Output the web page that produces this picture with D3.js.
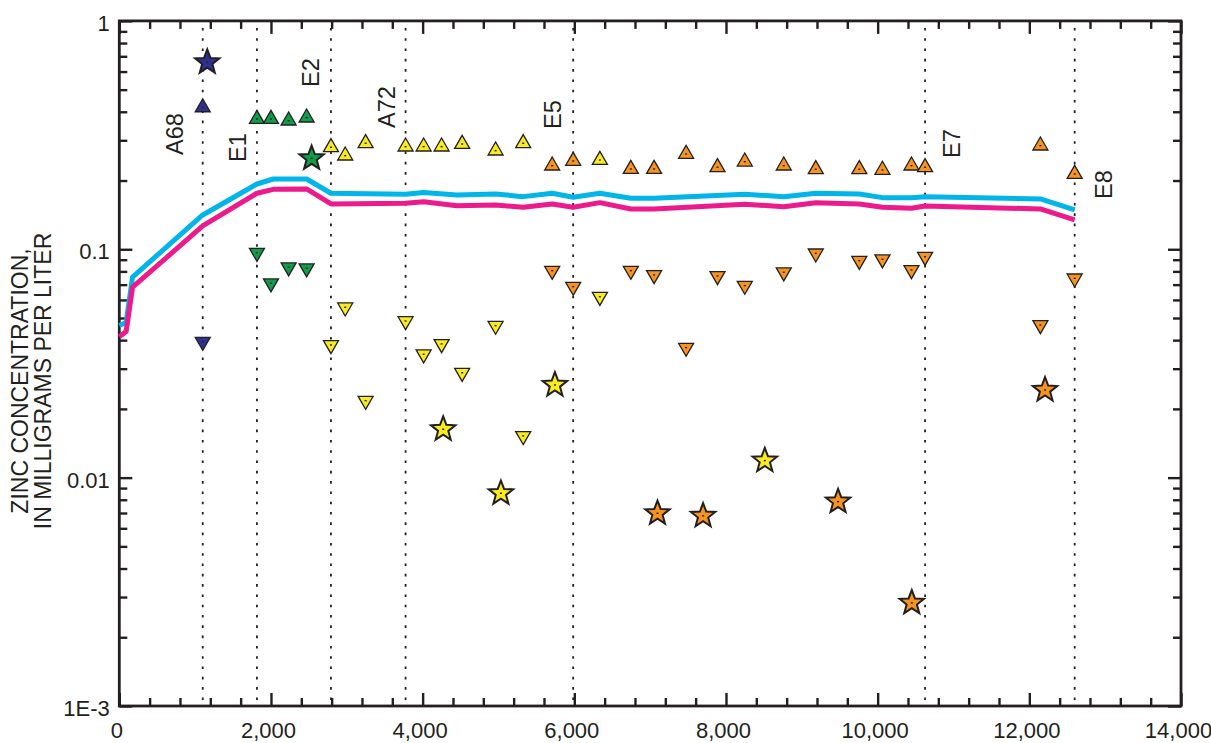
<!DOCTYPE html>
<html>
<head>
<meta charset="utf-8">
<script src="https://cdn.jsdelivr.net/npm/d3@7"></script>
<style>
  html, body { margin: 0; padding: 0; background: #fff; }
  svg { display: block; font-family: "Liberation Sans", Arial, Helvetica, sans-serif; }
</style>
</head>
<body>
<svg id="chart" width="1211" height="743"></svg>
<script>
// ---------------------------------------------------------------
// Axis setup
// ---------------------------------------------------------------
const xDomain = [0, 14000];
const yDomain = [0.001, 1];
const xTickValues = [0, 2000, 4000, 6000, 8000, 10000, 12000, 14000];
const xTickLabels = ["0", "2,000", "4,000", "6,000", "8,000", "10,000", "12,000", "14,000"];
const yTickValues = [0.001, 0.01, 0.1, 1];
const yTickLabels = ["1E-3", "0.01", "0.1", "1"];
const yTitleLines = ["ZINC CONCENTRATION,", "IN MILLIGRAMS PER LITER"];

// ---------------------------------------------------------------
// Sampling sites (distance along stream)
// ---------------------------------------------------------------
const siteNames = ["A68", "E1", "E2", "A72", "E5", "E7", "E8"];
const siteDistance = [1100, 1815, 2791, 3775, 5985, 10625, 12598];

// ---------------------------------------------------------------
// Simulated profiles (two lines)
// ---------------------------------------------------------------
const profileDistance = [0, 90, 175, 1100, 1815, 2030, 2470, 2791, 3775, 4013, 4452, 4962,
  5326, 5708, 5985, 6337, 6745, 7052, 8248, 8762, 9184, 9758, 10063, 10446, 10625, 12146, 12598];
const profileCyan = [0.0464, 0.0478, 0.0756, 0.1413, 0.1931, 0.2031, 0.2031, 0.1759, 0.1741, 0.1773,
  0.1729, 0.1747, 0.1700, 0.1759, 0.1690, 0.1759, 0.1673, 0.1673, 0.1741, 0.1700, 0.1759, 0.1747,
  0.1683, 0.1683, 0.1700, 0.1661, 0.1486];
const profileMagenta = [0.0414, 0.0436, 0.0682, 0.1265, 0.1759, 0.1830, 0.1837, 0.1579, 0.1590, 0.1616,
  0.1552, 0.1563, 0.1527, 0.1579, 0.1527, 0.1600, 0.1501, 0.1501, 0.1574, 0.1536, 0.1600, 0.1579,
  0.1527, 0.1511, 0.1547, 0.1501, 0.1344];

// ---------------------------------------------------------------
// Observed concentrations: upper (up triangles), lower (down triangles), stars
// ---------------------------------------------------------------
// Navy group
const navyDistance = [1100];
const navyUpper = [0.418];
const navyLower = [0.0394];
const navyStarDistance = [1160];
const navyStar = [0.659];

// Green group
const greenDistance = [1815, 2000, 2233, 2470];
const greenUpper = [0.372, 0.372, 0.3656, 0.377];
const greenLower = [0.0966, 0.0710, 0.0834, 0.0826];
const greenStarDistance = [2536];
const greenStar = [0.250];

// Yellow group
const yellowDistance = [2791, 2979, 3248, 3775, 4013, 4250, 4521, 4962, 5326, 6337];
const yellowUpper = [0.2797, 0.2570, 0.2912, 0.2814, 0.2814, 0.2814, 0.2891, 0.2702, 0.2912, 0.2460];
const yellowLower = [0.0381, 0.0557, 0.02173, 0.0485, 0.0347, 0.0385, 0.0288, 0.0463, 0.01523, 0.0620];
const yellowStarDistance = [4271, 5032, 5744, 8512];
const yellowStar = [0.01629, 0.00854, 0.02545, 0.01187];

// Orange group
const orangeDistance = [5708, 5985, 6745, 7052, 7474, 7888, 8248, 8762, 9184, 9758, 10063, 10446, 10625, 12146, 12598];
const orangeUpper = [0.2323, 0.2436, 0.2247, 0.2247, 0.2614, 0.2286, 0.2418, 0.2323, 0.2240, 0.2240,
  0.2225, 0.2323, 0.2286, 0.2842, 0.2136];
const orangeLower = [0.0806, 0.0686, 0.0806, 0.0772, 0.0371, 0.0764, 0.0693, 0.0793, 0.0960, 0.0891,
  0.0904, 0.0812, 0.0928, 0.0466, 0.0746];
const orangeStarDistance = [7097, 7698, 9478, 10450, 12207];
const orangeStar = [0.00698, 0.0068, 0.00785, 0.00283, 0.0242];

// ---------------------------------------------------------------
// Styling / layout
// ---------------------------------------------------------------
const INK = "#231f20";
const COLORS = { navy: "#2e3192", green: "#0f9d4a", yellow: "#f8ec1e", orange: "#f7941f", cyan: "#00b5ea", magenta: "#ec1a8c" };
// site label placement: baseline offset from the dotted line (px) and start level (mg/L)
const siteLabelDx = [-19.4, -11, -11.7, -10.3, -12, 34.7, 37];
const siteLabelAt = [0.259, 0.241, 0.5135, 0.3397, 0.3363, 0.2510, 0.1661];

const svg = d3.select("#chart");
const plot = { left: 119.3, right: 1181, top: 20.9, bottom: 706 };

const x = d3.scaleLinear().domain(xDomain).range([plot.left, plot.right]);
const y = d3.scaleLog().domain(yDomain).range([plot.bottom, plot.top]);

const xMinor = d3.range(400, 14000, 400).filter(v => v % 2000 !== 0);
const yMinor = [];
[-3, -2, -1].forEach(k => { for (let m = 2; m <= 9; m++) yMinor.push(m * Math.pow(10, k)); });

function styleAxis(g) {
  g.attr("font-family", null).attr("font-size", null);
  g.select(".domain").remove();
  g.selectAll(".tick line").attr("stroke", INK).attr("stroke-width", 2.4);
}
const noLabel = () => "";

// bottom axis
svg.append("g").attr("transform", `translate(0,${plot.bottom})`)
  .call(d3.axisBottom(x).tickValues(xMinor).tickSize(-8).tickFormat(noLabel)).call(styleAxis);
svg.append("g").attr("transform", `translate(0,${plot.bottom})`)
  .call(d3.axisBottom(x).tickValues(xTickValues).tickSize(-13).tickFormat((d, i) => xTickLabels[i]))
  .call(styleAxis)
  .call(g => g.selectAll("text").attr("y", 31.5).attr("dy", null).attr("dx", -3)
    .attr("font-size", 22).attr("fill", INK));

// top axis
svg.append("g").attr("transform", `translate(0,${plot.top})`)
  .call(d3.axisTop(x).tickValues(xMinor).tickSize(-8).tickFormat(noLabel)).call(styleAxis);
svg.append("g").attr("transform", `translate(0,${plot.top})`)
  .call(d3.axisTop(x).tickValues(xTickValues).tickSize(-13).tickFormat(noLabel)).call(styleAxis);

// left axis
svg.append("g").attr("transform", `translate(${plot.left},0)`)
  .call(d3.axisLeft(y).tickValues(yMinor).tickSize(-8).tickFormat(noLabel)).call(styleAxis);
svg.append("g").attr("transform", `translate(${plot.left},0)`)
  .call(d3.axisLeft(y).tickValues(yTickValues).tickSize(-13).tickFormat((d, i) => yTickLabels[i]))
  .call(styleAxis)
  .call(g => g.selectAll("text").attr("x", -9.5).attr("y", 2).attr("dy", "0.35em")
    .attr("font-size", 22).attr("fill", INK));

// right axis
svg.append("g").attr("transform", `translate(${plot.right},0)`)
  .call(d3.axisRight(y).tickValues(yMinor).tickSize(-8).tickFormat(noLabel)).call(styleAxis);
svg.append("g").attr("transform", `translate(${plot.right},0)`)
  .call(d3.axisRight(y).tickValues(yTickValues).tickSize(-13).tickFormat(noLabel)).call(styleAxis);

// frame
svg.append("rect")
  .attr("x", plot.left).attr("y", plot.top)
  .attr("width", plot.right - plot.left).attr("height", plot.bottom - plot.top)
  .attr("fill", "none").attr("stroke", INK).attr("stroke-width", 2.8);

// y-axis title
yTitleLines.forEach((line, i) => {
  svg.append("text")
    .attr("transform", `translate(${28 + i * 23},381) rotate(-90)`)
    .attr("text-anchor", "middle")
    .attr("font-size", 23)
    .attr("fill", INK)
    .text(line);
});

// site dotted lines and labels
const sites = siteNames.map((name, i) => ({ name, d: siteDistance[i], dx: siteLabelDx[i], at: siteLabelAt[i] }));
svg.append("g").selectAll("line").data(sites).join("line")
  .attr("x1", s => x(s.d)).attr("x2", s => x(s.d))
  .attr("y1", plot.top + 7).attr("y2", plot.bottom - 2)
  .attr("stroke", INK).attr("stroke-width", 1.8)
  .attr("stroke-dasharray", "2.6,7.7");
svg.append("g").selectAll("text").data(sites).join("text")
  .attr("transform", s => `translate(${x(s.d) + s.dx},${y(s.at)}) rotate(-90)`)
  .attr("font-size", 23.5).attr("fill", INK)
  .text(s => s.name);

// profile lines
const profileLine = d3.line().x(p => x(p[0])).y(p => y(p[1]));
[[profileCyan, COLORS.cyan], [profileMagenta, COLORS.magenta]].forEach(([vals, col]) => {
  svg.append("path")
    .datum(profileDistance.map((d, i) => [d, vals[i]]))
    .attr("d", profileLine)
    .attr("fill", "none").attr("stroke", col)
    .attr("stroke-width", 5).attr("stroke-linejoin", "round");
});

// marker shapes (centred on the centroid)
const TRI = 15, TRI_H = TRI * Math.sqrt(3) / 2;
const triUp = `M0,${-2 * TRI_H / 3}L${TRI / 2},${TRI_H / 3}L${-TRI / 2},${TRI_H / 3}Z`;
const triDown = `M0,${2 * TRI_H / 3}L${TRI / 2},${-TRI_H / 3}L${-TRI / 2},${-TRI_H / 3}Z`;
function starPath(R, r) {
  const pts = [];
  for (let k = 0; k < 10; k++) {
    const a = -Math.PI / 2 + k * Math.PI / 5;
    const rad = k % 2 === 0 ? R : r;
    pts.push([rad * Math.cos(a), rad * Math.sin(a)]);
  }
  return "M" + pts.map(p => p[0].toFixed(2) + "," + p[1].toFixed(2)).join("L") + "Z";
}
const star = starPath(12.8, 5.4);

const groups = [
  { color: COLORS.navy, dist: navyDistance, upper: navyUpper, lower: navyLower, sDist: navyStarDistance, star: navyStar },
  { color: COLORS.green, dist: greenDistance, upper: greenUpper, lower: greenLower, sDist: greenStarDistance, star: greenStar },
  { color: COLORS.yellow, dist: yellowDistance, upper: yellowUpper, lower: yellowLower, sDist: yellowStarDistance, star: yellowStar },
  { color: COLORS.orange, dist: orangeDistance, upper: orangeUpper, lower: orangeLower, sDist: orangeStarDistance, star: orangeStar }
];

const marks = [];
groups.forEach(gp => {
  gp.dist.forEach((d, i) => {
    marks.push({ d, v: gp.upper[i], shape: triUp, color: gp.color, sw: 1.3 });
    marks.push({ d, v: gp.lower[i], shape: triDown, color: gp.color, sw: 1.3 });
  });
  gp.sDist.forEach((d, i) => {
    marks.push({ d, v: gp.star[i], shape: star, color: gp.color, sw: 2 });
  });
});

const mg = svg.append("g").selectAll("g").data(marks).join("g")
  .attr("transform", m => `translate(${x(m.d)},${y(m.v)})`);
mg.append("path")
  .attr("d", m => m.shape)
  .attr("fill", m => m.color)
  .attr("stroke", INK)
  .attr("stroke-width", m => m.sw)
  .attr("stroke-linejoin", "miter");
mg.append("rect")
  .attr("x", -1).attr("y", -0.7).attr("width", 2).attr("height", 1.4)
  .attr("fill", INK);
</script>
</body>
</html>
